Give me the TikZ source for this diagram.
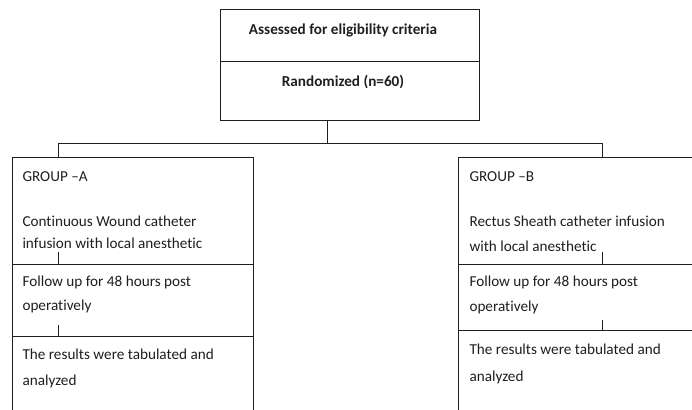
\documentclass[tikz,border=0pt]{standalone}
\usepackage{fontspec}
\setmainfont[Ligatures={TeX,NoCommon}]{Carlito}
\begin{document}
\begin{tikzpicture}[x=1pt,y=-1pt,
  line width=1pt, color=black!88,
  boxpart/.style={draw, line width=1pt, rectangle, anchor=north west, inner sep=0pt, outer sep=0pt},
  txt/.style={anchor=base west, inner sep=0pt, font=\fontsize{15.2}{18}\selectfont},
  ctxt/.style={anchor=base, inner sep=0pt, font=\fontsize{15.2}{18}\selectfont\bfseries}]
\useasboundingbox (0,0) rectangle (692,409);
\fill[white] (0,0) rectangle (692,409);
\clip (0,0) rectangle (692,409);
% top box
\node[boxpart, minimum width=259pt, minimum height=52pt] (T1) at (220,10) {};
\node[boxpart, minimum width=259pt, minimum height=58pt] (T2) at (220,62) {};
\node[ctxt] (t1) at (343,35) {Assessed for eligibility criteria};
\node[ctxt] (t2) at (343,87) {Randomized (n=60)};
% group A
\node[boxpart, minimum width=241pt, minimum height=107pt] (A1) at (12,157) {};
\node[boxpart, minimum width=241pt, minimum height=72pt] (A2) at (12,264) {};
\node[boxpart, minimum width=241pt, minimum height=100pt] (A3) at (12,336) {};
% group B
\node[boxpart, minimum width=300pt, minimum height=107pt] (B1) at (458,157) {};
\node[boxpart, minimum width=300pt, minimum height=66pt] (B2) at (458,264) {};
\node[boxpart, minimum width=300pt, minimum height=100pt] (B3) at (458,330) {};
% connectors
\coordinate (split) at (327,143);
\coordinate (la) at (58,143);
\coordinate (rb) at (602,143);
\draw (T2.south -| split) -- (split);
\draw (la) -- (rb);
\draw (la) -- (la |- A1.north);
\draw (rb) -- (rb |- B1.north);
\draw (A2.north -| la) -- ++(0,-12);
\draw (A3.north -| la) -- ++(0,-11);
\draw (B2.north -| rb) -- ++(0,-12);
\draw (B3.north -| rb) -- ++(0,-10);
% texts A
\node[txt] (a1) at (22,181) {GROUP --A};
\node[txt] (a2) at (22,226) {Continuous Wound catheter};
\node[txt] (a3) at (22,248) {infusion with local anesthetic};
\node[txt] (a4) at (22,286) {Follow up for 48 hours post};
\node[txt] (a5) at (22,310) {operatively};
\node[txt] (a6) at (22,359) {The results were tabulated and};
\node[txt] (a7) at (22,385) {analyzed};
% texts B
\node[txt] (b1) at (469,181) {GROUP --B};
\node[txt] (b2) at (469,226) {Rectus Sheath catheter infusion};
\node[txt] (b3) at (469,251) {with local anesthetic};
\node[txt] (b4) at (469,286) {Follow up for 48 hours post};
\node[txt] (b5) at (469,311) {operatively};
\node[txt] (b6) at (469,354) {The results were tabulated and};
\node[txt] (b7) at (469,381) {analyzed};
\end{tikzpicture}
\end{document}
